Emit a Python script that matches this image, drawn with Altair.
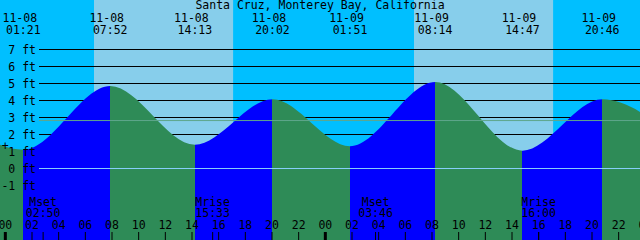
import altair as alt
import pandas as pd

# ---------------- data ----------------
title_text = "Santa Cruz, Monterey Bay, California"

day_index = {"11-07": -1, "11-08": 0, "11-09": 1, "11-10": 2}

# daylight intervals (local clock)
sunrise_dates = ["11-08", "11-09"]
sunrise_times = ["06:39", "06:39"]
sunset_dates = ["11-08", "11-09"]
sunset_times = ["17:05", "17:05"]

# labelled tide extremes
tide_dates = ["11-08", "11-08", "11-08", "11-08", "11-09", "11-09", "11-09", "11-09"]
tide_times = ["01:21", "07:52", "14:13", "20:02", "01:51", "08:14", "14:47", "20:46"]
tide_heights = [1.10, 4.85, 1.40, 4.07, 1.31, 5.09, 1.05, 4.07]

# extremes just outside the window (shape of the curve at the edges)
edge_dates = ["11-07", "11-10"]
edge_times = ["18:54", "02:40"]
edge_heights = [4.00, 1.52]

# moon events
moon_events = ["Mset", "Mrise", "Mset", "Mrise"]
moon_dates = ["11-08", "11-08", "11-09", "11-09"]
moon_times = ["02:50", "15:33", "03:46", "16:00"]

ft_levels = [-1, 0, 1, 2, 3, 4, 5, 6, 7]
msl_level = [2.82]
datum_level = [0]

hour_ticks = list(range(0, 49, 2))

plus_time = [0.0]
plus_level = [1.29]

# ---------------- styling ----------------
FONT = "DejaVu Sans Mono"
FS = 11.5
NIGHT = "#00BFFF"
DAY = "#87CEEB"
FLOOD = "#0000FF"
EBB = "#2E8B57"
W, H = 640, 240
Y_LO, Y_HI = -71.5 / 17, 168.5 / 17


def to_hours(d, tm):
    hh, mm = tm.split(":")
    return 24 * day_index[d] + int(hh) + int(mm) / 60.0


xs = alt.Scale(domain=[-0.4, 47.6], nice=False, zero=False)
ys = alt.Scale(domain=[Y_LO, Y_HI], nice=False, zero=False)


def X(f):
    return alt.X(f, type="quantitative", scale=xs, axis=None)


def Y(f):
    return alt.Y(f, type="quantitative", scale=ys, axis=None)


# day rects
days_df = pd.DataFrame({
    "t": [to_hours(d, t) for d, t in zip(sunrise_dates, sunrise_times)],
    "t2": [to_hours(d, t) for d, t in zip(sunset_dates, sunset_times)],
})
days = alt.Chart(days_df).mark_rect(color=DAY).encode(
    x=X("t"), x2="t2", y=alt.value(0), y2=alt.value(H)
)

# grid lines
ft_df = pd.DataFrame({"ft": ft_levels, "label": [f"{k} ft" for k in ft_levels]})
grid = alt.Chart(ft_df).mark_rule(color="black", strokeWidth=1).encode(
    x=alt.value(39), x2=alt.value(W), y=Y("ft")
)

# water
curve_t = [to_hours(d, t) for d, t in zip(edge_dates[:1] + tide_dates + edge_dates[1:],
                                           edge_times[:1] + tide_times + edge_times[1:])]
curve_h = edge_heights[:1] + tide_heights + edge_heights[1:]
curve_df = pd.DataFrame({"t": curve_t, "h": curve_h})
t_first, t_last = curve_t[0], curve_t[-1]
stops = []
for i in range(len(curve_t) - 1):
    c = FLOOD if curve_h[i + 1] > curve_h[i] else EBB
    stops.append(alt.GradientStop(color=c, offset=(curve_t[i] - t_first) / (t_last - t_first)))
    stops.append(alt.GradientStop(color=c, offset=(curve_t[i + 1] - t_first) / (t_last - t_first)))
grad = alt.Gradient(gradient="linear", stops=stops, x1=0, x2=1, y1=0, y2=0)
water = alt.Chart(curve_df).mark_area(interpolate="monotone", clip=True, color=grad).encode(
    x=X("t"), y=Y("h"), y2=alt.Y2(datum=Y_LO)
)

# MSL and datum lines
msl = alt.Chart(pd.DataFrame({"ft": msl_level})).mark_rule(color="#5FA68C", strokeWidth=1).encode(
    x=alt.value(39), x2=alt.value(W), y=Y("ft")
)
datum = alt.Chart(pd.DataFrame({"ft": datum_level})).mark_rule(color="#87CEFA", strokeWidth=1).encode(
    x=alt.value(39), x2=alt.value(W), y=Y("ft")
)

# y labels
ylabels = alt.Chart(ft_df).mark_text(
    align="right", baseline="alphabetic", dy=4, font=FONT, fontSize=FS, color="black"
).encode(x=alt.value(36), y=Y("ft"), text="label")

# extreme labels on top
ext_df = pd.DataFrame({
    "t": [to_hours(d, t) for d, t in zip(tide_dates, tide_times)],
    "date": tide_dates,
    "time": tide_times,
})
date_lbl = alt.Chart(ext_df).mark_text(
    align="center", baseline="alphabetic", dx=-3.5, font=FONT, fontSize=FS, color="black"
).encode(x=X("t"), y=alt.value(21.7), text="date")
time_lbl = alt.Chart(ext_df).mark_text(
    align="center", baseline="alphabetic", font=FONT, fontSize=FS, color="black"
).encode(x=X("t"), y=alt.value(34.3), text="time")

title = alt.Chart(pd.DataFrame({"txt": [title_text]})).mark_text(
    align="center", baseline="alphabetic", font=FONT, fontSize=FS, color="black"
).encode(x=alt.value(W / 2), y=alt.value(9.3), text="txt")

# hour ticks and labels
hr_df = pd.DataFrame({
    "t": hour_ticks,
    "label": [f"{h % 24:02d}" for h in hour_ticks],
    "midnight": [h % 24 == 0 for h in hour_ticks],
})
ticks = alt.Chart(hr_df).mark_rule(color="black", clip=True).encode(
    x=X("t"), y=alt.value(232), y2=alt.value(H),
    strokeWidth=alt.condition("datum.midnight", alt.value(3), alt.value(1)),
)
hr_lbl = alt.Chart(hr_df).mark_text(
    align="center", baseline="alphabetic", font=FONT, fontSize=FS, color="black"
).encode(x=X("t"), y=alt.value(229.3), text="label")

# moon
moon_df = pd.DataFrame({
    "t": [to_hours(d, t) for d, t in zip(moon_dates, moon_times)],
    "ev": moon_events,
    "time": moon_times,
})
moon_ticks = alt.Chart(moon_df).mark_rule(color="black", strokeWidth=1).encode(
    x=X("t"), y=alt.value(232), y2=alt.value(H)
)
moon_ev = alt.Chart(moon_df).mark_text(
    align="center", baseline="alphabetic", font=FONT, fontSize=FS, color="black"
).encode(x=X("t"), y=alt.value(206), text="ev")
moon_tm = alt.Chart(moon_df).mark_text(
    align="center", baseline="alphabetic", font=FONT, fontSize=FS, color="black"
).encode(x=X("t"), y=alt.value(217.3), text="time")

plus = alt.Chart(pd.DataFrame({"t": plus_time, "h": plus_level, "s": ["+"]})).mark_text(
    align="center", baseline="middle", font=FONT, fontSize=FS, color="black"
).encode(x=X("t"), y=Y("h"), text="s")

chart = alt.layer(
    days, grid, water, msl, datum, ylabels, date_lbl, time_lbl, title,
    ticks, hr_lbl, moon_ticks, moon_ev, moon_tm, plus
).properties(
    width=W, height=H, background=NIGHT, padding=0, autosize="none"
).configure_view(stroke=None)

chart.save("out.html", embed_options={"renderer": "svg", "actions": False})
